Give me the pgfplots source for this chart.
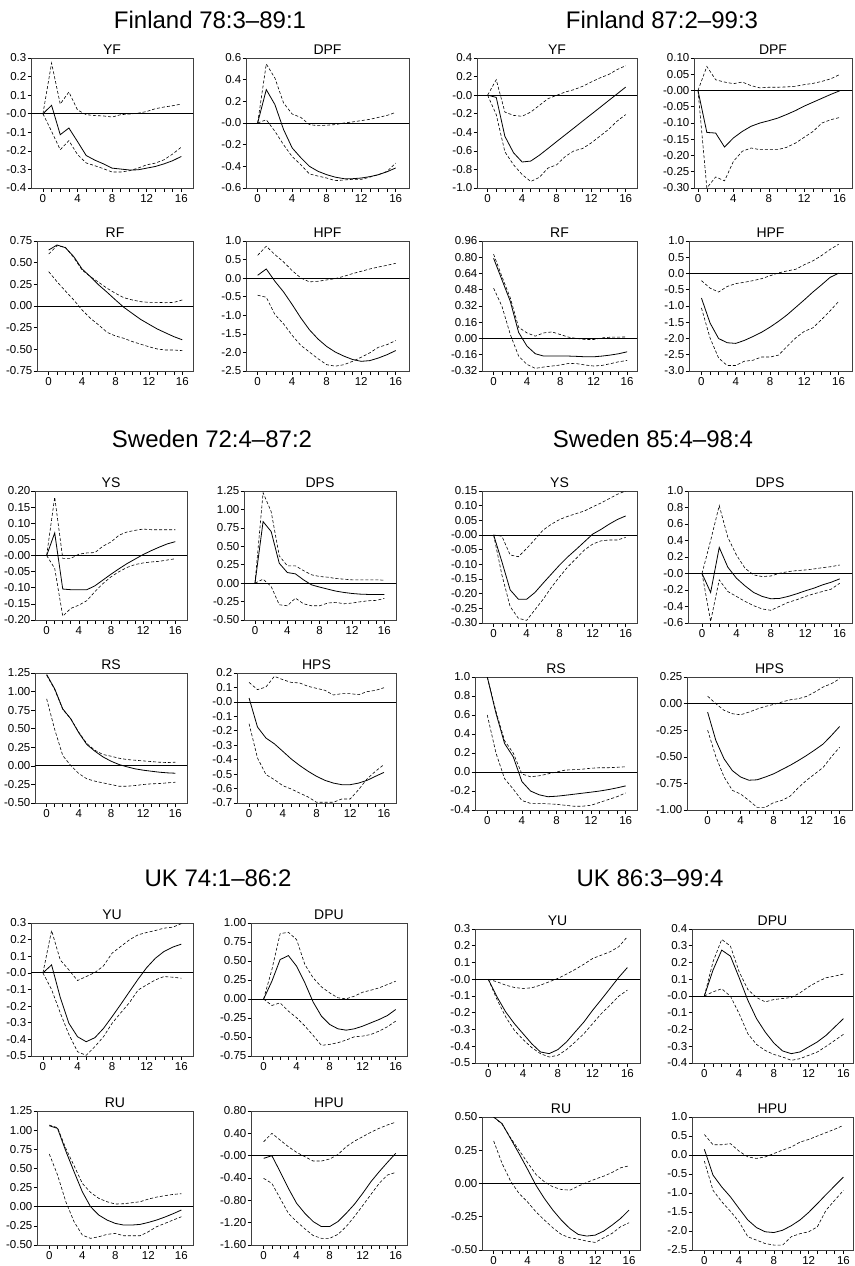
\documentclass[border=0pt]{standalone}
\usepackage{pgfplots}
\pgfplotsset{compat=1.18}
\usepackage{fontspec}
\setmainfont{Liberation Sans}

\pgfplotsset{
  irf/.style={
    scale only axis, anchor=south west,
    xtick={0,4,8,12,16}, xticklabels={0,4,8,12,16},
    minor xtick={1,2,3,5,6,7,9,10,11,13,14,15},
    tick align=outside, tick pos=left,
    major tick length=3.5pt, minor tick length=3.5pt,
    tick style={black, line width=0.6pt},
    axis line style={black!75, line width=0.8pt},
    tick label style={font=\fontsize{11.5}{13}\selectfont},
    yticklabel style={inner xsep=1pt},
    xticklabel style={inner ysep=2.5pt},
    every axis title/.style={at={(0.5,1)}, anchor=south, yshift=0pt,
      font=\fontsize{14}{16}\selectfont},
  },
  mid/.style={black, line width=0.8pt, mark=none},
  band/.style={black, line width=0.6pt, dash pattern=on 3pt off 2pt, mark=none},
  zero/.style={black, line width=0.8pt, mark=none},
}
\newcommand{\zeroline}{\addplot[zero] coordinates {(-3,0) (18,0)};}

\begin{document}
\begin{tikzpicture}
\useasboundingbox (0,0) rectangle (854pt,-1266pt);

% block titles
\begin{scope}[every node/.style={anchor=base, font=\fontsize{24}{28}\selectfont}]
\node at (210pt,-28pt) {Finland 78:3–89:1};
\node at (662pt,-28pt) {Finland 87:2–99:3};
\node at (212pt,-447pt) {Sweden 72:4–87:2};
\node at (653pt,-447pt) {Sweden 85:4–98:4};
\node at (218pt,-886pt) {UK 74:1–86:2};
\node at (650pt,-886pt) {UK 86:3–99:4};
\end{scope}

% ================= Finland 78:3-89:1 =================
\begin{axis}[irf, at={(31pt,-188pt)}, width=162pt, height=130pt, title={YF},
  xmin=-1.38, xmax=17.35, ymin=-0.4, ymax=0.3,
  ytick={0.3,0.2,0.1,0,-0.1,-0.2,-0.3,-0.4},
  yticklabels={0.3,0.2,0.1,-0.0,-0.1,-0.2,-0.3,-0.4}]
\zeroline
\addplot[mid] coordinates {(0,0) (1,0.045) (2,-0.113) (3,-0.077) (4,-0.15) (5,-0.225) (6,-0.25) (7,-0.27) (8,-0.293) (9,-0.298) (10,-0.303) (11,-0.302) (12,-0.293) (13,-0.284) (14,-0.27) (15,-0.253) (16,-0.23)};
\addplot[band] coordinates {(0,0) (1,0.273) (2,0.052) (3,0.117) (4,0.02) (5,-0.005) (6,-0.01) (7,-0.012) (8,-0.018) (9,-0.005) (10,-0.002) (11,0.003) (12,0.012) (13,0.027) (14,0.036) (15,0.043) (16,0.052)};
\addplot[band] coordinates {(0,0) (1,-0.095) (2,-0.194) (3,-0.145) (4,-0.22) (5,-0.265) (6,-0.28) (7,-0.296) (8,-0.314) (9,-0.314) (10,-0.307) (11,-0.293) (12,-0.275) (13,-0.266) (14,-0.248) (15,-0.217) (16,-0.18)};
\end{axis}

\begin{axis}[irf, at={(246pt,-188pt)}, width=163pt, height=130pt, title={DPF},
  xmin=-1.35, xmax=17.54, ymin=-0.6, ymax=0.6,
  ytick={0.6,0.4,0.2,0,-0.2,-0.4,-0.6},
  yticklabels={0.6,0.4,0.2,-0.0,-0.2,-0.4,-0.6}]
\zeroline
\addplot[mid] coordinates {(0,0) (1,0.308) (2,0.17) (3,-0.06) (4,-0.23) (5,-0.32) (6,-0.4) (7,-0.446) (8,-0.477) (9,-0.5) (10,-0.514) (11,-0.514) (12,-0.508) (13,-0.495) (14,-0.477) (15,-0.45) (16,-0.415)};
\addplot[band] coordinates {(0,0) (1,0.545) (2,0.415) (3,0.185) (4,0.083) (5,0.052) (6,-0.015) (7,-0.025) (8,-0.02) (9,-0.015) (10,0) (11,0.01) (12,0.022) (13,0.034) (14,0.052) (15,0.07) (16,0.098)};
\addplot[band] coordinates {(0,0) (1,0.03) (2,-0.077) (3,-0.2) (4,-0.31) (5,-0.385) (6,-0.47) (7,-0.49) (8,-0.508) (9,-0.532) (10,-0.526) (11,-0.52) (12,-0.52) (13,-0.5) (14,-0.477) (15,-0.446) (16,-0.37)};
\end{axis}

\begin{axis}[irf, at={(37pt,-371pt)}, width=156pt, height=130pt, title={RF},
  xmin=-1.40, xmax=17.28, ymin=-0.75, ymax=0.75,
  ytick={0.75,0.5,0.25,0,-0.25,-0.5,-0.75},
  yticklabels={0.75,0.50,0.25,0.00,-0.25,-0.50,-0.75}]
\zeroline
\addplot[mid] coordinates {(0,0.646) (1,0.704) (2,0.673) (3,0.57) (4,0.427) (5,0.338) (6,0.242) (7,0.158) (8,0.07) (9,-0.015) (10,-0.085) (11,-0.154) (12,-0.21) (13,-0.265) (14,-0.31) (15,-0.354) (16,-0.39)};
\addplot[band] coordinates {(0,0.6) (1,0.696) (2,0.677) (3,0.56) (4,0.415) (5,0.338) (6,0.273) (7,0.204) (8,0.146) (9,0.096) (10,0.07) (11,0.05) (12,0.042) (13,0.042) (14,0.038) (15,0.042) (16,0.07)};
\addplot[band] coordinates {(0,0.396) (1,0.28) (2,0.173) (3,0.07) (4,-0.046) (5,-0.142) (6,-0.22) (7,-0.304) (8,-0.346) (9,-0.373) (10,-0.41) (11,-0.44) (12,-0.47) (13,-0.496) (14,-0.508) (15,-0.508) (16,-0.515)};
\end{axis}

\begin{axis}[irf, at={(246pt,-371pt)}, width=163pt, height=130pt, title={HPF},
  xmin=-1.35, xmax=17.54, ymin=-2.5, ymax=1.0,
  ytick={1,0.5,0,-0.5,-1,-1.5,-2,-2.5},
  yticklabels={1.0,0.5,0.0,-0.5,-1.0,-1.5,-2.0,-2.5}]
\zeroline
\addplot[mid] coordinates {(0,0.077) (1,0.247) (2,-0.084) (3,-0.37) (4,-0.71) (5,-1.07) (6,-1.39) (7,-1.64) (8,-1.84) (9,-1.99) (10,-2.1) (11,-2.19) (12,-2.24) (13,-2.22) (14,-2.15) (15,-2.06) (16,-1.95)};
\addplot[band] coordinates {(0,0.615) (1,0.86) (2,0.634) (3,0.437) (4,0.203) (5,0.005) (6,-0.1) (7,-0.084) (8,-0.048) (9,-0.012) (10,0.05) (11,0.122) (12,0.185) (13,0.247) (14,0.3) (15,0.346) (16,0.4)};
\addplot[band] coordinates {(0,-0.46) (1,-0.515) (2,-0.98) (3,-1.23) (4,-1.54) (5,-1.81) (6,-1.99) (7,-2.17) (8,-2.33) (9,-2.37) (10,-2.33) (11,-2.24) (12,-2.13) (13,-2.01) (14,-1.86) (15,-1.79) (16,-1.68)};
\end{axis}

% ================= Finland 87:2-99:3 =================
\begin{axis}[irf, at={(477pt,-188pt)}, width=160pt, height=130pt, title={YF},
  xmin=-1.23, xmax=17.31, ymin=-1.0, ymax=0.4,
  ytick={0.4,0.2,0,-0.2,-0.4,-0.6,-0.8,-1.0},
  yticklabels={0.4,0.2,-0.0,-0.2,-0.4,-0.6,-0.8,-1.0}]
\zeroline
\addplot[mid] coordinates {(0,0) (1,-0.024) (2,-0.443) (3,-0.62) (4,-0.72) (5,-0.71) (6,-0.647) (7,-0.574) (8,-0.5) (9,-0.427) (10,-0.354) (11,-0.28) (12,-0.207) (13,-0.134) (14,-0.06) (15,0.013) (16,0.087)};
\addplot[band] coordinates {(0,0) (1,0.166) (2,-0.182) (3,-0.218) (4,-0.228) (5,-0.182) (6,-0.11) (7,-0.038) (8,-0.002) (9,0.034) (10,0.059) (11,0.095) (12,0.141) (13,0.185) (14,0.221) (15,0.275) (16,0.317)};
\addplot[band] coordinates {(0,0) (1,-0.21) (2,-0.61) (3,-0.75) (4,-0.855) (5,-0.93) (6,-0.885) (7,-0.785) (8,-0.75) (9,-0.66) (10,-0.6) (11,-0.575) (12,-0.515) (13,-0.443) (14,-0.37) (15,-0.28) (16,-0.21)};
\end{axis}

\begin{axis}[irf, at={(694pt,-188pt)}, width=158pt, height=130pt, title={DPF},
  xmin=-0.45, xmax=17.4, ymin=-0.3, ymax=0.1,
  ytick={0.1,0.05,0,-0.05,-0.1,-0.15,-0.2,-0.25,-0.3},
  yticklabels={0.10,0.05,-0.00,-0.05,-0.10,-0.15,-0.20,-0.25,-0.30}]
\zeroline
\addplot[mid] coordinates {(0,0) (1,-0.129) (2,-0.131) (3,-0.174) (4,-0.146) (5,-0.126) (6,-0.11) (7,-0.1) (8,-0.093) (9,-0.085) (10,-0.074) (11,-0.062) (12,-0.048) (13,-0.036) (14,-0.024) (15,-0.012) (16,-0.001)};
\addplot[band] coordinates {(0,0) (1,0.074) (2,0.033) (3,0.026) (4,0.021) (5,0.026) (6,0.015) (7,0.008) (8,0.01) (9,0.01) (10,0.011) (11,0.013) (12,0.018) (13,0.022) (14,0.028) (15,0.036) (16,0.049)};
\addplot[band] coordinates {(0,0) (1,-0.3) (2,-0.266) (3,-0.278) (4,-0.218) (5,-0.187) (6,-0.177) (7,-0.182) (8,-0.182) (9,-0.182) (10,-0.175) (11,-0.162) (12,-0.144) (13,-0.126) (14,-0.1) (15,-0.09) (16,-0.083)};
\end{axis}

\begin{axis}[irf, at={(482pt,-371pt)}, width=155pt, height=130pt, title={RF},
  xmin=-1.39, xmax=17.19, ymin=-0.32, ymax=0.96,
  ytick={0.96,0.8,0.64,0.48,0.32,0.16,0,-0.16,-0.32},
  yticklabels={0.96,0.80,0.64,0.48,0.32,0.16,0.00,-0.16,-0.32}]
\zeroline
\addplot[mid] coordinates {(0,0.79) (1,0.578) (2,0.366) (3,0.06) (4,-0.075) (5,-0.15) (6,-0.173) (7,-0.173) (8,-0.173) (9,-0.173) (10,-0.176) (11,-0.18) (12,-0.18) (13,-0.173) (14,-0.163) (15,-0.15) (16,-0.131)};
\addplot[band] coordinates {(0,0.83) (1,0.61) (2,0.4) (3,0.11) (4,0.055) (5,0.023) (6,0.055) (7,0.065) (8,0.039) (9,0.013) (10,0) (11,-0.01) (12,-0.01) (13,0.006) (14,0.013) (15,0.013) (16,0.016)};
\addplot[band] coordinates {(0,0.496) (1,0.317) (2,0.04) (3,-0.173) (4,-0.255) (5,-0.294) (6,-0.281) (7,-0.271) (8,-0.261) (9,-0.245) (10,-0.248) (11,-0.261) (12,-0.271) (13,-0.265) (14,-0.248) (15,-0.229) (16,-0.216)};
\end{axis}

\begin{axis}[irf, at={(689pt,-371pt)}, width=163pt, height=130pt, title={HPF},
  xmin=-1.45, xmax=17.56, ymin=-3.0, ymax=1.0,
  ytick={1,0.5,0,-0.5,-1,-1.5,-2,-2.5,-3},
  yticklabels={1.0,0.5,0.0,-0.5,-1.0,-1.5,-2.0,-2.5,-3.0}]
\zeroline
\addplot[mid] coordinates {(0,-0.755) (1,-1.52) (2,-2.0) (3,-2.13) (4,-2.15) (5,-2.06) (6,-1.94) (7,-1.81) (8,-1.65) (9,-1.47) (10,-1.27) (11,-1.04) (12,-0.81) (13,-0.57) (14,-0.35) (15,-0.12) (16,0.01)};
\addplot[band] coordinates {(0,-0.22) (1,-0.45) (2,-0.57) (3,-0.4) (4,-0.31) (5,-0.27) (6,-0.22) (7,-0.16) (8,-0.07) (9,0.02) (10,0.08) (11,0.13) (12,0.27) (13,0.39) (14,0.55) (15,0.74) (16,0.9)};
\addplot[band] coordinates {(0,-1.06) (1,-1.98) (2,-2.6) (3,-2.83) (4,-2.83) (5,-2.7) (6,-2.67) (7,-2.57) (8,-2.57) (9,-2.51) (10,-2.24) (11,-1.98) (12,-1.78) (13,-1.67) (14,-1.42) (15,-1.15) (16,-0.86)};
\end{axis}

% ================= Sweden 72:4-87:2 =================
\begin{axis}[irf, at={(35pt,-620pt)}, width=152pt, height=129pt, title={YS},
  xmin=-1.45, xmax=17.45, ymin=-0.2, ymax=0.2,
  ytick={0.2,0.15,0.1,0.05,0,-0.05,-0.1,-0.15,-0.2},
  yticklabels={0.20,0.15,0.10,0.05,-0.00,-0.05,-0.10,-0.15,-0.20}]
\zeroline
\addplot[mid] coordinates {(0,0) (1,0.07) (2,-0.104) (3,-0.106) (4,-0.106) (5,-0.106) (6,-0.094) (7,-0.076) (8,-0.058) (9,-0.041) (10,-0.025) (11,-0.011) (12,0.003) (13,0.015) (14,0.026) (15,0.036) (16,0.043)};
\addplot[band] coordinates {(0,0) (1,0.181) (2,-0.009) (3,-0.009) (4,0.004) (5,0.008) (6,0.009) (7,0.029) (8,0.042) (9,0.063) (10,0.073) (11,0.078) (12,0.082) (13,0.08) (14,0.08) (15,0.08) (16,0.08)};
\addplot[band] coordinates {(0,0) (1,-0.04) (2,-0.188) (3,-0.164) (4,-0.154) (5,-0.14) (6,-0.112) (7,-0.087) (8,-0.066) (9,-0.05) (10,-0.037) (11,-0.028) (12,-0.023) (13,-0.02) (14,-0.018) (15,-0.014) (16,-0.01)};
\end{axis}

\begin{axis}[irf, at={(244pt,-620pt)}, width=152pt, height=129pt, title={DPS},
  xmin=-1.36, xmax=17.44, ymin=-0.5, ymax=1.25,
  ytick={1.25,1,0.75,0.5,0.25,0,-0.25,-0.5},
  yticklabels={1.25,1.00,0.75,0.50,0.25,0.00,-0.25,-0.50}]
\zeroline
\addplot[mid] coordinates {(0,0) (1,0.835) (2,0.7) (3,0.27) (4,0.144) (5,0.126) (6,0.045) (7,-0.023) (8,-0.054) (9,-0.081) (10,-0.108) (11,-0.126) (12,-0.14) (13,-0.149) (14,-0.153) (15,-0.153) (16,-0.153)};
\addplot[band] coordinates {(0,0) (1,1.227) (2,0.97) (3,0.37) (4,0.235) (5,0.235) (6,0.17) (7,0.113) (8,0.09) (9,0.081) (10,0.063) (11,0.054) (12,0.045) (13,0.045) (14,0.045) (15,0.045) (16,0.04)};
\addplot[band] coordinates {(0,0) (1,0.054) (2,-0.045) (3,-0.293) (4,-0.307) (5,-0.203) (6,-0.28) (7,-0.307) (8,-0.307) (9,-0.27) (10,-0.26) (11,-0.28) (12,-0.27) (13,-0.253) (14,-0.239) (15,-0.234) (16,-0.207)};
\end{axis}

\begin{axis}[irf, at={(35pt,-803pt)}, width=152pt, height=130pt, title={RS},
  xmin=-1.45, xmax=17.45, ymin=-0.5, ymax=1.25,
  ytick={1.25,1,0.75,0.5,0.25,0,-0.25,-0.5},
  yticklabels={1.25,1.00,0.75,0.50,0.25,0.00,-0.25,-0.50}]
\zeroline
\addplot[mid] coordinates {(0,1.23) (1,1.037) (2,0.767) (3,0.633) (4,0.444) (5,0.287) (6,0.197) (7,0.121) (8,0.063) (9,0.018) (10,-0.013) (11,-0.04) (12,-0.058) (13,-0.072) (14,-0.085) (15,-0.094) (16,-0.099)};
\addplot[band] coordinates {(0,1.22) (1,1.028) (2,0.76) (3,0.633) (4,0.453) (5,0.3) (6,0.21) (7,0.153) (8,0.13) (9,0.103) (10,0.085) (11,0.076) (12,0.067) (13,0.058) (14,0.049) (15,0.045) (16,0.049)};
\addplot[band] coordinates {(0,0.902) (1,0.489) (2,0.139) (3,0.004) (4,-0.103) (5,-0.175) (6,-0.206) (7,-0.229) (8,-0.251) (9,-0.274) (10,-0.274) (11,-0.265) (12,-0.251) (13,-0.242) (14,-0.238) (15,-0.229) (16,-0.22)};
\end{axis}

\begin{axis}[irf, at={(237pt,-803pt)}, width=159pt, height=130pt, title={HPS},
  xmin=-1.43, xmax=17.43, ymin=-0.7, ymax=0.2,
  ytick={0.2,0.1,0,-0.1,-0.2,-0.3,-0.4,-0.5,-0.6,-0.7},
  yticklabels={0.2,0.1,-0.0,-0.1,-0.2,-0.3,-0.4,-0.5,-0.6,-0.7}]
\zeroline
\addplot[mid] coordinates {(0,0.027) (1,-0.174) (2,-0.25) (3,-0.29) (4,-0.342) (5,-0.395) (6,-0.44) (7,-0.48) (8,-0.515) (9,-0.543) (10,-0.562) (11,-0.573) (12,-0.573) (13,-0.562) (14,-0.543) (15,-0.515) (16,-0.488)};
\addplot[band] coordinates {(0,0.135) (1,0.085) (2,0.103) (3,0.177) (4,0.154) (5,0.135) (6,0.131) (7,0.108) (8,0.094) (9,0.08) (10,0.048) (11,0.057) (12,0.057) (13,0.05) (14,0.071) (15,0.08) (16,0.098)};
\addplot[band] coordinates {(0,-0.151) (1,-0.388) (2,-0.503) (3,-0.538) (4,-0.58) (5,-0.603) (6,-0.631) (7,-0.658) (8,-0.695) (9,-0.695) (10,-0.695) (11,-0.672) (12,-0.672) (13,-0.607) (14,-0.533) (15,-0.48) (16,-0.434)};
\end{axis}

% ================= Sweden 85:4-98:4 =================
\begin{axis}[irf, at={(482pt,-623pt)}, width=155pt, height=132pt, title={YS},
  xmin=-1.41, xmax=17.37, ymin=-0.3, ymax=0.15,
  ytick={0.15,0.1,0.05,0,-0.05,-0.1,-0.15,-0.2,-0.25,-0.3},
  yticklabels={0.15,0.10,0.05,-0.00,-0.05,-0.10,-0.15,-0.20,-0.25,-0.30}]
\zeroline
\addplot[mid] coordinates {(0,0) (1,-0.091) (2,-0.187) (3,-0.219) (4,-0.219) (5,-0.196) (6,-0.164) (7,-0.133) (8,-0.102) (9,-0.074) (10,-0.049) (11,-0.023) (12,0.003) (13,0.019) (14,0.037) (15,0.053) (16,0.065)};
\addplot[band] coordinates {(0,0) (1,-0.004) (2,-0.068) (3,-0.074) (4,-0.046) (5,-0.015) (6,0.017) (7,0.037) (8,0.053) (9,0.064) (10,0.073) (11,0.082) (12,0.096) (13,0.109) (14,0.124) (15,0.139) (16,0.15)};
\addplot[band] coordinates {(0,0) (1,-0.136) (2,-0.244) (3,-0.284) (4,-0.291) (5,-0.255) (6,-0.219) (7,-0.178) (8,-0.142) (9,-0.108) (10,-0.08) (11,-0.051) (12,-0.031) (13,-0.02) (14,-0.017) (15,-0.017) (16,-0.008)};
\end{axis}

\begin{axis}[irf, at={(688pt,-623pt)}, width=164pt, height=132pt, title={DPS},
  xmin=-1.63, xmax=17.43, ymin=-0.6, ymax=1.0,
  ytick={1,0.8,0.6,0.4,0.2,0,-0.2,-0.4,-0.6},
  yticklabels={1.0,0.8,0.6,0.4,0.2,-0.0,-0.2,-0.4,-0.6}]
\zeroline
\addplot[mid] coordinates {(0,0) (1,-0.23) (2,0.316) (3,0.076) (4,-0.057) (5,-0.15) (6,-0.23) (7,-0.278) (8,-0.306) (9,-0.302) (10,-0.278) (11,-0.246) (12,-0.21) (13,-0.178) (14,-0.138) (15,-0.106) (16,-0.065)};
\addplot[band] coordinates {(0,0) (1,0.4) (2,0.823) (3,0.437) (4,0.224) (5,0.063) (6,-0.017) (7,-0.037) (8,-0.03) (9,0.003) (10,0.023) (11,0.035) (12,0.043) (13,0.055) (14,0.071) (15,0.083) (16,0.103)};
\addplot[band] coordinates {(0,0) (1,-0.58) (2,-0.077) (3,-0.218) (4,-0.278) (5,-0.338) (6,-0.39) (7,-0.43) (8,-0.446) (9,-0.398) (10,-0.35) (11,-0.318) (12,-0.278) (13,-0.246) (14,-0.218) (15,-0.19) (16,-0.118)};
\end{axis}

\begin{axis}[irf, at={(475pt,-810pt)}, width=162pt, height=133pt, title={RS},
  xmin=-1.42, xmax=17.31, ymin=-0.4, ymax=1.0,
  ytick={1,0.8,0.6,0.4,0.2,0,-0.2,-0.4},
  yticklabels={1.0,0.8,0.6,0.4,0.2,0.0,-0.2,-0.4}]
\zeroline
\addplot[mid] coordinates {(0,1.0) (1,0.62) (2,0.3) (3,0.16) (4,-0.1) (5,-0.2) (6,-0.24) (7,-0.26) (8,-0.255) (9,-0.245) (10,-0.234) (11,-0.223) (12,-0.212) (13,-0.2) (14,-0.185) (15,-0.167) (16,-0.146)};
\addplot[band] coordinates {(0,1.0) (1,0.64) (2,0.33) (3,0.2) (4,-0.02) (5,-0.05) (6,-0.04) (7,-0.02) (8,0) (9,0.02) (10,0.025) (11,0.03) (12,0.04) (13,0.045) (14,0.045) (15,0.05) (16,0.055)};
\addplot[band] coordinates {(0,0.6) (1,0.2) (2,-0.07) (3,-0.18) (4,-0.3) (5,-0.33) (6,-0.33) (7,-0.335) (8,-0.34) (9,-0.35) (10,-0.36) (11,-0.36) (12,-0.35) (13,-0.32) (14,-0.29) (15,-0.26) (16,-0.22)};
\end{axis}

\begin{axis}[irf, at={(687pt,-810pt)}, width=165pt, height=133pt, title={HPS},
  xmin=-2.5, xmax=17.5, ymin=-1.0, ymax=0.25,
  ytick={0.25,0,-0.25,-0.5,-0.75,-1},
  yticklabels={0.25,0.00,-0.25,-0.50,-0.75,-1.00}]
\zeroline
\addplot[mid] coordinates {(0,-0.08) (1,-0.347) (2,-0.52) (3,-0.63) (4,-0.69) (5,-0.72) (6,-0.716) (7,-0.69) (8,-0.66) (9,-0.62) (10,-0.58) (11,-0.535) (12,-0.487) (13,-0.435) (14,-0.38) (15,-0.3) (16,-0.215)};
\addplot[band] coordinates {(0,0.07) (1,-0.001) (2,-0.064) (3,-0.095) (4,-0.105) (5,-0.08) (6,-0.051) (7,-0.026) (8,-0.008) (9,0.015) (10,0.036) (11,0.046) (12,0.068) (13,0.109) (14,0.156) (15,0.187) (16,0.234)};
\addplot[band] coordinates {(0,-0.25) (1,-0.5) (2,-0.69) (3,-0.815) (4,-0.85) (5,-0.91) (6,-0.975) (7,-0.975) (8,-0.93) (9,-0.91) (10,-0.87) (11,-0.79) (12,-0.72) (13,-0.66) (14,-0.6) (15,-0.5) (16,-0.41)};
\end{axis}

% ================= UK 74:1-86:2 =================
\begin{axis}[irf, at={(31pt,-1056pt)}, width=162pt, height=133pt, title={YU},
  xmin=-1.38, xmax=17.35, ymin=-0.5, ymax=0.3,
  ytick={0.3,0.2,0.1,0,-0.1,-0.2,-0.3,-0.4,-0.5},
  yticklabels={0.3,0.2,0.1,-0.0,-0.1,-0.2,-0.3,-0.4,-0.5}]
\zeroline
\addplot[mid] coordinates {(0,0) (1,0.048) (2,-0.147) (3,-0.303) (4,-0.384) (5,-0.414) (6,-0.39) (7,-0.334) (8,-0.263) (9,-0.189) (10,-0.113) (11,-0.038) (12,0.032) (13,0.088) (14,0.129) (15,0.155) (16,0.173)};
\addplot[band] coordinates {(0,0) (1,0.255) (2,0.078) (3,0.018) (4,-0.046) (5,-0.022) (6,0.002) (7,0.042) (8,0.119) (9,0.159) (10,0.199) (11,0.229) (12,0.243) (13,0.255) (14,0.269) (15,0.275) (16,0.296)};
\addplot[band] coordinates {(0,0) (1,-0.1) (2,-0.24) (3,-0.37) (4,-0.474) (5,-0.496) (6,-0.444) (7,-0.384) (8,-0.303) (9,-0.24) (10,-0.179) (11,-0.103) (12,-0.072) (13,-0.042) (14,-0.022) (15,-0.026) (16,-0.032)};
\end{axis}

\begin{axis}[irf, at={(251pt,-1056pt)}, width=156pt, height=133pt, title={DPU},
  xmin=-1.53, xmax=17.37, ymin=-0.75, ymax=1.0,
  ytick={1,0.75,0.5,0.25,0,-0.25,-0.5,-0.75},
  yticklabels={1.00,0.75,0.50,0.25,0.00,-0.25,-0.50,-0.75}]
\zeroline
\addplot[mid] coordinates {(0,0) (1,0.234) (2,0.519) (3,0.571) (4,0.431) (5,0.212) (6,-0.04) (7,-0.225) (8,-0.335) (9,-0.392) (10,-0.41) (11,-0.392) (12,-0.357) (13,-0.313) (14,-0.269) (15,-0.217) (16,-0.138)};
\addplot[band] coordinates {(0,0) (1,0.387) (2,0.86) (3,0.878) (4,0.781) (5,0.453) (6,0.278) (7,0.16) (8,0.081) (9,0.016) (10,0.003) (11,0.038) (12,0.09) (13,0.116) (14,0.147) (15,0.191) (16,0.234)};
\addplot[band] coordinates {(0,0) (1,-0.085) (2,-0.05) (3,-0.159) (4,-0.247) (5,-0.356) (6,-0.479) (7,-0.61) (8,-0.597) (9,-0.575) (10,-0.54) (11,-0.497) (12,-0.488) (13,-0.466) (14,-0.422) (15,-0.365) (16,-0.291)};
\end{axis}

\begin{axis}[irf, at={(37pt,-1245pt)}, width=156pt, height=134pt, title={RU},
  xmin=-1.49, xmax=17.41, ymin=-0.5, ymax=1.25,
  ytick={1.25,1,0.75,0.5,0.25,0,-0.25,-0.5},
  yticklabels={1.25,1.00,0.75,0.50,0.25,0.00,-0.25,-0.50}]
\zeroline
\addplot[mid] coordinates {(0,1.058) (1,1.023) (2,0.727) (3,0.457) (4,0.196) (5,0) (6,-0.109) (7,-0.174) (8,-0.218) (9,-0.239) (10,-0.239) (11,-0.231) (12,-0.205) (13,-0.174) (14,-0.135) (15,-0.091) (16,-0.043)};
\addplot[band] coordinates {(0,1.067) (1,1.032) (2,0.762) (3,0.536) (4,0.305) (5,0.187) (6,0.109) (7,0.065) (8,0.035) (9,0.039) (10,0.052) (11,0.065) (12,0.1) (13,0.126) (14,0.144) (15,0.161) (16,0.17)};
\addplot[band] coordinates {(0,0.688) (1,0.414) (2,0.066) (3,-0.196) (4,-0.37) (5,-0.413) (6,-0.392) (7,-0.361) (8,-0.348) (9,-0.379) (10,-0.379) (11,-0.379) (12,-0.327) (13,-0.261) (14,-0.218) (15,-0.174) (16,-0.131)};
\end{axis}

\begin{axis}[irf, at={(251pt,-1245pt)}, width=156pt, height=134pt, title={HPU},
  xmin=-1.53, xmax=17.37, ymin=-1.6, ymax=0.8,
  ytick={0.8,0.4,0,-0.4,-0.8,-1.2,-1.6},
  yticklabels={0.80,0.40,-0.00,-0.40,-0.80,-1.20,-1.60}]
\zeroline
\addplot[mid] coordinates {(0,-0.048) (1,0) (2,-0.287) (3,-0.585) (4,-0.854) (5,-1.033) (6,-1.18) (7,-1.27) (8,-1.27) (9,-1.18) (10,-1.033) (11,-0.87) (12,-0.675) (13,-0.466) (14,-0.287) (15,-0.12) (16,0.042)};
\addplot[band] coordinates {(0,0.25) (1,0.4) (2,0.28) (3,0.16) (4,0.06) (5,-0.018) (6,-0.096) (7,-0.096) (8,-0.06) (9,0.02) (10,0.16) (11,0.26) (12,0.34) (13,0.42) (14,0.49) (15,0.55) (16,0.6)};
\addplot[band] coordinates {(0,-0.406) (1,-0.496) (2,-0.764) (3,-1.033) (4,-1.18) (5,-1.31) (6,-1.43) (7,-1.48) (8,-1.48) (9,-1.41) (10,-1.27) (11,-1.09) (12,-0.895) (13,-0.693) (14,-0.496) (15,-0.346) (16,-0.3)};
\end{axis}

% ================= UK 86:3-99:4 =================
\begin{axis}[irf, at={(475pt,-1063pt)}, width=165pt, height=134pt, title={YU},
  xmin=-1.53, xmax=17.45, ymin=-0.5, ymax=0.3,
  ytick={0.3,0.2,0.1,0,-0.1,-0.2,-0.3,-0.4,-0.5},
  yticklabels={0.3,0.2,0.1,-0.0,-0.1,-0.2,-0.3,-0.4,-0.5}]
\zeroline
\addplot[mid] coordinates {(0,0) (1,-0.105) (2,-0.195) (3,-0.265) (4,-0.325) (5,-0.385) (6,-0.434) (7,-0.444) (8,-0.42) (9,-0.374) (10,-0.314) (11,-0.255) (12,-0.185) (13,-0.121) (14,-0.055) (15,0.011) (16,0.07)};
\addplot[band] coordinates {(0,0) (1,-0.015) (2,-0.035) (3,-0.049) (4,-0.055) (5,-0.051) (6,-0.035) (7,-0.015) (8,0.005) (9,0.031) (10,0.059) (11,0.09) (12,0.124) (13,0.144) (14,0.164) (15,0.194) (16,0.254)};
\addplot[band] coordinates {(0,0) (1,-0.121) (2,-0.225) (3,-0.305) (4,-0.36) (5,-0.408) (6,-0.444) (7,-0.464) (8,-0.454) (9,-0.42) (10,-0.374) (11,-0.325) (12,-0.265) (13,-0.205) (14,-0.155) (15,-0.101) (16,-0.065)};
\end{axis}

\begin{axis}[irf, at={(692pt,-1063pt)}, width=161pt, height=134pt, title={DPU},
  xmin=-1.42, xmax=17.1, ymin=-0.4, ymax=0.4,
  ytick={0.4,0.3,0.2,0.1,0,-0.1,-0.2,-0.3,-0.4},
  yticklabels={0.4,0.3,0.2,0.1,-0.0,-0.1,-0.2,-0.3,-0.4}]
\zeroline
\addplot[mid] coordinates {(0,0) (1,0.155) (2,0.274) (3,0.238) (4,0.11) (5,-0.025) (6,-0.135) (7,-0.215) (8,-0.281) (9,-0.328) (10,-0.344) (11,-0.334) (12,-0.304) (13,-0.274) (14,-0.235) (15,-0.185) (16,-0.135)};
\addplot[band] coordinates {(0,0) (1,0.205) (2,0.338) (3,0.298) (4,0.145) (5,0.039) (6,-0.009) (7,-0.035) (8,-0.021) (9,-0.015) (10,-0.009) (11,0.019) (12,0.055) (13,0.085) (14,0.109) (15,0.119) (16,0.131)};
\addplot[band] coordinates {(0,0) (1,0.025) (2,0.043) (3,-0.001) (4,-0.105) (5,-0.225) (6,-0.289) (7,-0.325) (8,-0.349) (9,-0.364) (10,-0.384) (11,-0.374) (12,-0.354) (13,-0.334) (14,-0.301) (15,-0.265) (16,-0.229)};
\end{axis}

\begin{axis}[irf, at={(482pt,-1250pt)}, width=158pt, height=133pt, title={RU},
  xmin=-1.38, xmax=17.3, ymin=-0.5, ymax=0.5,
  ytick={0.5,0.25,0,-0.25,-0.5},
  yticklabels={0.50,0.25,0.00,-0.25,-0.50}]
\zeroline
\addplot[mid] coordinates {(0,0.5) (1,0.45) (2,0.338) (3,0.225) (4,0.108) (5,-0.013) (6,-0.113) (7,-0.2) (8,-0.275) (9,-0.338) (10,-0.383) (11,-0.395) (12,-0.388) (13,-0.358) (14,-0.313) (15,-0.263) (16,-0.2)};
\addplot[band] coordinates {(0,0.5) (1,0.445) (2,0.343) (3,0.25) (4,0.158) (5,0.068) (6,0.013) (7,-0.025) (8,-0.045) (9,-0.05) (10,-0.02) (11,0.008) (12,0.033) (13,0.055) (14,0.083) (15,0.118) (16,0.133)};
\addplot[band] coordinates {(0,0.32) (1,0.15) (2,0.018) (3,-0.075) (4,-0.138) (5,-0.213) (6,-0.275) (7,-0.333) (8,-0.383) (9,-0.408) (10,-0.418) (11,-0.433) (12,-0.443) (13,-0.408) (14,-0.375) (15,-0.325) (16,-0.295)};
\end{axis}

\begin{axis}[irf, at={(692pt,-1250pt)}, width=161pt, height=133pt, title={HPU},
  xmin=-1.42, xmax=17.1, ymin=-2.5, ymax=1.0,
  ytick={1,0.5,0,-0.5,-1,-1.5,-2,-2.5},
  yticklabels={1.0,0.5,0.0,-0.5,-1.0,-1.5,-2.0,-2.5}]
\zeroline
\addplot[mid] coordinates {(0,0.15) (1,-0.53) (2,-0.84) (3,-1.1) (4,-1.41) (5,-1.71) (6,-1.91) (7,-2.02) (8,-2.04) (9,-1.98) (10,-1.86) (11,-1.71) (12,-1.51) (13,-1.28) (14,-1.04) (15,-0.81) (16,-0.58)};
\addplot[band] coordinates {(0,0.54) (1,0.27) (2,0.27) (3,0.3) (4,0.1) (5,-0.05) (6,-0.09) (7,-0.05) (8,0.04) (9,0.13) (10,0.21) (11,0.34) (12,0.41) (13,0.5) (14,0.59) (15,0.68) (16,0.78)};
\addplot[band] coordinates {(0,-0.16) (1,-0.93) (2,-1.23) (3,-1.48) (4,-1.76) (5,-2.15) (6,-2.24) (7,-2.33) (8,-2.37) (9,-2.37) (10,-2.15) (11,-2.07) (12,-2.02) (13,-1.89) (14,-1.45) (15,-1.19) (16,-0.93)};
\end{axis}
\end{tikzpicture}
\end{document}
